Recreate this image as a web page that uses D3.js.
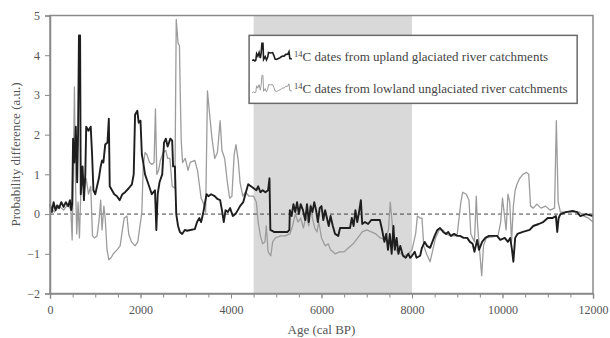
<!DOCTYPE html>
<html>
<head>
<meta charset="utf-8">
<script src="https://cdn.jsdelivr.net/npm/d3@7"></script>
<style>
  body { margin: 0; background: #fff; }
  svg { display: block; }
  text { font-family: "Liberation Serif", "DejaVu Serif", serif; }
</style>
</head>
<body>
<div id="chart"></div>
<script>
// Upland glaciated catchments: [age cal BP, probability difference]
const uplandSeries = [
  [0, 0.25], [40, 0.05], [80, 0.3], [120, 0.1], [160, 0.22], [200, 0.15], [250, 0.3], [300, 0.18],
  [350, 0.3], [400, 0.2], [440, 0.35], [470, 0.1], [490, 0.25], [510, 1.9], [540, 1.3], [570, 2.2],
  [600, 0.8], [620, 2.0], [640, 4.5], [665, 4.5], [680, 0.5], [720, 1.2], [750, 0.35], [780, 1.0],
  [800, 2.2], [850, 2.1], [900, 2.2], [930, 1.5], [960, 0.6], [1000, 0.5], [1040, 0.7], [1080, 0.9],
  [1120, 1.2], [1150, 1.35], [1180, 1.3], [1220, 1.75], [1270, 1.8], [1300, 2.4], [1320, 0.7],
  [1370, 0.6], [1420, 0.5], [1480, 0.45], [1540, 0.35], [1600, 0.5], [1660, 0.55], [1740, 0.65],
  [1810, 0.75], [1850, 1.0], [1880, 2.5], [1930, 2.6], [1960, 2.3], [2000, 2.35], [2030, 1.5],
  [2060, 1.3], [2100, 1.0], [2160, 0.8], [2250, 0.5], [2320, 0.6], [2350, -0.4], [2380, 0.5],
  [2420, 0.8], [2480, 1.0], [2520, 1.8], [2560, 1.9], [2600, 1.7], [2660, 1.9], [2700, 1.85],
  [2720, 1.2], [2760, 1.2], [2790, 0.0], [2830, -0.3], [2870, -0.45], [2920, -0.5], [2980, -0.4],
  [3030, -0.42], [3100, -0.4], [3200, -0.38], [3250, -0.2], [3300, -0.1], [3340, -0.2], [3380, 0.0],
  [3420, 0.25], [3460, 0.5], [3500, 0.45], [3560, 0.5], [3640, 0.45], [3700, 0.38], [3760, 0.35],
  [3800, 0.1], [3840, -0.2], [3880, 0.1], [3930, 0.05], [3980, 0.15], [4040, -0.05], [4100, 0.0],
  [4150, 0.1], [4200, 0.2], [4270, 0.3], [4330, 0.55], [4380, 0.75], [4440, 0.7], [4500, 0.65],
  [4560, 0.6], [4600, 0.7], [4650, 0.55], [4700, 0.6], [4760, 0.55], [4820, 0.6], [4850, 0.9],
  [4870, -0.4], [4950, -0.45], [5100, -0.45], [5250, -0.45], [5290, -0.4], [5300, 0.1], [5340, -0.05],
  [5380, 0.25], [5420, 0.05], [5460, 0.3], [5500, 0.0], [5540, 0.25], [5590, 0.1], [5640, -0.15],
  [5680, 0.25], [5720, -0.2], [5760, 0.2], [5800, 0.05], [5840, 0.3], [5880, 0.1], [5920, -0.2],
  [5960, 0.15], [6000, 0.2], [6040, -0.15], [6080, 0.1], [6120, -0.1], [6160, -0.3], [6200, -0.05],
  [6250, -0.3], [6300, -0.5], [6370, -0.55], [6410, -0.35], [6500, -0.35], [6630, -0.35], [6670, -0.1],
  [6710, -0.3], [6750, 0.1], [6790, -0.2], [6830, 0.05], [6870, 0.35], [6900, -0.25], [6960, -0.2],
  [7030, -0.25], [7100, -0.15], [7200, -0.15], [7290, -0.15], [7340, -0.4], [7390, -0.7], [7430, -0.5],
  [7470, -0.9], [7510, -0.5], [7550, -1.0], [7590, -0.3], [7620, -0.9], [7660, -0.6], [7700, -1.0],
  [7740, -0.8], [7800, -1.05], [7860, -1.1], [7920, -1.0], [7960, -1.1], [8000, -1.05], [8060, -0.95],
  [8100, -1.1], [8180, -1.05], [8220, -0.85], [8280, -0.7], [8330, -0.8], [8400, -0.85], [8450, -0.7],
  [8500, -0.55], [8560, -0.4], [8620, -0.35], [8690, -0.45], [8750, -0.5], [8800, -0.45], [8860, -0.55],
  [8930, -0.5], [9000, -0.55], [9060, -0.55], [9140, -0.6], [9220, -0.6], [9280, -0.7], [9340, -0.75],
  [9380, -0.95], [9440, -0.65], [9480, -0.9], [9550, -0.7], [9620, -0.6], [9700, -0.55], [9800, -0.55],
  [9880, -0.55], [9950, -0.65], [10050, -0.6], [10120, -0.7], [10170, -0.6], [10210, -0.9], [10240, -1.2],
  [10280, -0.6], [10330, -0.5], [10450, -0.45], [10600, -0.4], [10680, -0.3], [10800, -0.25], [10900, -0.2],
  [11000, -0.1], [11100, -0.1], [11180, -0.05], [11210, -0.45], [11240, -0.1], [11280, 0.0], [11400, 0.05],
  [11550, 0.08], [11650, 0.05], [11720, -0.05], [11850, 0.0], [12000, -0.05]
];

// Lowland unglaciated catchments
const lowlandSeries = [
  [0, 0.15], [100, 0.05], [200, 0.2], [300, 0.1], [400, 0.25], [460, 0.1], [490, -0.65], [520, 1.5],
  [540, 3.2], [560, 1.0], [590, -0.5], [620, 0.3], [650, -0.6], [680, 0.5], [720, 1.0], [760, 0.6],
  [800, 0.9], [850, 0.5], [900, 0.7], [940, -0.55], [980, -0.6], [1040, -0.55], [1080, -0.2], [1120, 0.35],
  [1150, -0.4], [1190, 0.2], [1220, -0.1], [1260, -0.9], [1300, -1.15], [1350, -1.1], [1400, -1.0],
  [1480, -0.9], [1550, -0.8], [1600, -0.4], [1640, -0.1], [1700, -0.05], [1740, -0.5], [1800, -0.7],
  [1880, -0.8], [1940, -0.7], [2000, -0.2], [2030, 0.05], [2060, 1.2], [2100, 1.55], [2140, 1.5],
  [2200, 1.3], [2250, 1.25], [2300, 1.3], [2330, 2.65], [2360, 1.0], [2400, 1.1], [2440, 1.35],
  [2500, 1.55], [2560, 1.6], [2600, 1.4], [2650, 1.4], [2700, 0.7], [2760, 0.65], [2790, 4.9],
  [2830, 4.3], [2860, 4.25], [2880, 2.95], [2900, 1.85], [2930, 1.3], [2990, 1.4], [3050, 1.1],
  [3100, 1.3], [3200, 1.35], [3260, 1.1], [3300, 0.75], [3340, 0.4], [3400, 0.25], [3440, 0.05],
  [3480, 3.1], [3520, 2.6], [3580, 1.9], [3640, 1.4], [3700, 1.55], [3760, 2.35], [3800, 1.6],
  [3860, 1.4], [3920, 0.8], [3970, 0.4], [4020, 0.45], [4070, 1.5], [4110, 1.75], [4160, 1.35],
  [4200, 0.8], [4260, 0.45], [4320, 0.55], [4400, 0.45], [4500, 0.45], [4560, 0.3], [4600, -0.2],
  [4650, -0.55], [4700, -0.75], [4750, -0.7], [4780, -0.3], [4820, -0.95], [4880, -1.05], [4920, -0.7],
  [4980, -0.6], [5100, -0.55], [5200, -0.55], [5300, -0.5], [5360, -0.3], [5420, 0.0], [5480, -0.2],
  [5540, -0.1], [5600, -0.35], [5660, -0.05], [5720, -0.3], [5760, 0.25], [5800, -0.1], [5850, -0.35],
  [5900, -0.45], [5940, -0.2], [6000, -0.6], [6080, -0.8], [6150, -0.75], [6200, -0.9], [6300, -1.0],
  [6400, -0.95], [6500, -0.95], [6600, -0.85], [6700, -0.75], [6800, -0.6], [6900, -0.45], [7000, -0.4],
  [7100, -0.45], [7200, -0.5], [7300, -0.6], [7400, -0.65], [7480, -0.4], [7520, 0.3], [7560, -0.2],
  [7600, -0.8], [7680, -0.95], [7760, -1.0], [7840, -1.05], [7920, -1.0], [8000, -0.9], [8080, -0.5],
  [8120, -0.05], [8180, -0.1], [8220, -0.1], [8260, -0.8], [8320, -1.0], [8400, -1.2], [8460, -0.9],
  [8520, -0.6], [8600, -0.4], [8680, -0.4], [8750, -0.5], [8850, -0.55], [8950, -0.55], [9000, -0.5],
  [9040, -0.1], [9080, 0.3], [9120, 0.55], [9200, 0.5], [9260, 0.35], [9300, -0.5], [9380, -0.7],
  [9420, 0.45], [9450, -0.3], [9500, -1.0], [9540, -1.55], [9580, -0.8], [9640, -0.6], [9750, -0.58],
  [9900, -0.55], [9960, -0.2], [10000, 0.4], [10040, 0.0], [10080, -0.4], [10120, 0.5], [10160, 0.3],
  [10200, -0.7], [10240, 0.2], [10280, 0.6], [10320, 0.75], [10380, 0.9], [10450, 1.0], [10530, 1.05],
  [10580, 1.0], [10620, 0.2], [10680, 0.15], [10760, 0.25], [10850, 0.15], [10950, 0.2], [11050, 0.1],
  [11150, 0.15], [11190, 2.35], [11230, 0.3], [11280, 0.05], [11450, 0.05], [11700, 0.05],
  [11800, -0.05], [11900, -0.1], [12000, -0.2]
];

const shadedPeriod = [4500, 8000];
const xTicks = [0, 2000, 4000, 6000, 8000, 10000, 12000];
const yTicks = [-2, -1, 0, 1, 2, 3, 4, 5];
const legendLabels = [
  'C dates from upland glaciated river catchments',
  'C dates from lowland unglaciated river catchments'
];

const W = 610, H = 338;
const margin = { top: 15.5, right: 17, bottom: 44.5, left: 50 };
const width = W - margin.left - margin.right;
const height = H - margin.top - margin.bottom;

const AXIS_COLOR = '#8a8a8a';
const TEXT_COLOR = '#555';
const DARK = '#1e1e1e';
const LIGHT = '#9c9c9c';

const svg = d3.select('#chart').append('svg')
  .attr('width', W)
  .attr('height', H);

const g = svg.append('g')
  .attr('transform', `translate(${margin.left},${margin.top})`);

const x = d3.scaleLinear().domain([0, 12000]).range([0, width]);
const y = d3.scaleLinear().domain([-2, 5]).range([height, 0]);

// Shaded period
g.append('rect')
  .attr('x', x(shadedPeriod[0]))
  .attr('y', 0)
  .attr('width', x(shadedPeriod[1]) - x(shadedPeriod[0]))
  .attr('height', height)
  .attr('fill', '#d9d9d9');

// Zero line
g.append('line')
  .attr('x1', 0).attr('x2', width)
  .attr('y1', y(0)).attr('y2', y(0))
  .attr('stroke', '#444')
  .attr('stroke-width', 1)
  .attr('stroke-dasharray', '4,3');

const line = d3.line().x(d => x(d[0])).y(d => y(d[1]));

g.append('path')
  .datum(lowlandSeries)
  .attr('d', line)
  .attr('fill', 'none')
  .attr('stroke', LIGHT)
  .attr('stroke-width', 1.3)
  .attr('stroke-linejoin', 'round');

g.append('path')
  .datum(uplandSeries)
  .attr('d', line)
  .attr('fill', 'none')
  .attr('stroke', DARK)
  .attr('stroke-width', 1.9)
  .attr('stroke-linejoin', 'round');

// Frame (top and right)
g.append('rect')
  .attr('width', width)
  .attr('height', height)
  .attr('fill', 'none')
  .attr('stroke', AXIS_COLOR)
  .attr('stroke-width', 1.5);

// X axis: minor ticks every 500, labels every 2000
const xMinor = g.append('g')
  .attr('transform', `translate(0,${height})`)
  .call(d3.axisBottom(x).tickValues(d3.range(0, 12001, 500)).tickSize(4).tickFormat(''));
xMinor.select('.domain').remove();
xMinor.selectAll('line').attr('stroke', AXIS_COLOR);

const xAxis = g.append('g')
  .attr('transform', `translate(0,${height})`)
  .call(d3.axisBottom(x).tickValues(xTicks).tickSize(5).tickPadding(7).tickFormat(d3.format('d')));
xAxis.select('.domain').attr('stroke', AXIS_COLOR).attr('stroke-width', 1.5);
xAxis.selectAll('line').attr('stroke', AXIS_COLOR);
xAxis.selectAll('text')
  .attr('fill', TEXT_COLOR)
  .style('font-size', '12px')
  .style('font-family', '"Liberation Serif", serif');

const yAxis = g.append('g')
  .call(d3.axisLeft(y).tickValues(yTicks).tickSize(5).tickPadding(5).tickFormat(d3.format('d')));
yAxis.select('.domain').attr('stroke', AXIS_COLOR).attr('stroke-width', 1.5);
yAxis.selectAll('line').attr('stroke', AXIS_COLOR);
yAxis.selectAll('text')
  .attr('fill', TEXT_COLOR)
  .style('font-size', '12px')
  .style('font-family', '"Liberation Serif", serif');

// Axis titles
svg.append('text')
  .attr('x', margin.left + width / 2)
  .attr('y', 334)
  .attr('text-anchor', 'middle')
  .attr('fill', TEXT_COLOR)
  .style('font-size', '13px')
  .text('Age (cal BP)');

svg.append('text')
  .attr('transform', `translate(20,${margin.top + y(1.5)}) rotate(-90)`)
  .attr('text-anchor', 'middle')
  .attr('fill', TEXT_COLOR)
  .style('font-size', '13px')
  .text('Probability difference (a.u.)');

// Legend
const legend = g.append('g')
  .attr('transform', `translate(${x(4400)},${y(4.5)})`);

legend.append('rect')
  .attr('width', x(11650) - x(4400))
  .attr('height', 68)
  .attr('fill', '#fff')
  .attr('stroke', '#6a6a6a')
  .attr('stroke-width', 1.5);

// Legend swatches: a short slice of each series squeezed into a small box
const iconDomain = [400, 1400];
const iconX = d3.scaleLinear().domain(iconDomain).range([3, 44]);
const iconY = d3.scaleLinear().domain([0, 4.5]).range([4, -14]);
const iconLine = d3.line().x(d => iconX(d[0])).y(d => iconY(Math.max(0, d[1])));
const iconSlice = s => s.filter(d => d[0] >= iconDomain[0] && d[0] <= iconDomain[1]);

[
  { data: uplandSeries, color: DARK, w: 1.6, yy: 26, label: legendLabels[0] },
  { data: uplandSeries, color: LIGHT, w: 1, yy: 58, label: legendLabels[1] }
].forEach(item => {
  legend.append('path')
    .datum(iconSlice(item.data))
    .attr('transform', `translate(0,${item.yy - 4})`)
    .attr('d', iconLine)
    .attr('fill', 'none')
    .attr('stroke', item.color)
    .attr('stroke-width', item.w);

  const t = legend.append('text')
    .attr('x', 45)
    .attr('y', item.yy)
    .attr('fill', '#444')
    .style('font-size', '13px');
  t.append('tspan')
    .attr('font-size', '8.5px')
    .attr('dy', '-4')
    .text('14');
  t.append('tspan')
    .attr('dy', '4')
    .text(item.label);
});
</script>
</body>
</html>
